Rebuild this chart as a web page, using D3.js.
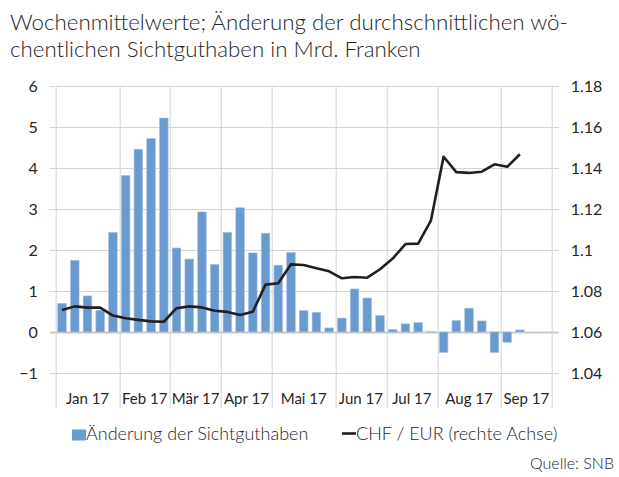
<!DOCTYPE html>
<html>
<head>
<meta charset="utf-8">
<script src="https://cdn.jsdelivr.net/npm/d3@7"></script>
<style>
  body { margin: 0; background: #fff; }
  svg text { font-family: Lato, "Open Sans", sans-serif; fill: #262626; }
</style>
</head>
<body>
<div class="chart"></div>
<script>
// data
let months = ["Jan 17", "Feb 17", "Mär 17", "Apr 17", "Mai 17", "Jun 17", "Jul 17", "Aug 17", "Sep 17"];
let weeksPerMonth = [5, 4, 4, 4, 5, 4, 4, 5, 4];

// weekly change of sight deposits (bn CHF), last two weeks not yet available
let change = [0.70, 1.75, 0.88, 0.53, 2.43,
              3.82, 4.46, 4.72, 5.22,
              2.05, 1.78, 2.93, 1.65,
              2.43, 3.03, 1.93, 2.41,
              1.63, 1.94, 0.52, 0.48, 0.10,
              0.34, 1.05, 0.83, 0.40,
              0.06, 0.20, 0.23, 0.01,
              -0.50, 0.28, 0.58, 0.27, -0.50,
              -0.25, 0.05, null, null];

// CHF per EUR, weekly mean (right axis)
let chfEur = [1.0707, 1.0725, 1.0719, 1.0719, 1.0680,
              1.0667, 1.0659, 1.0652, 1.0650,
              1.0716, 1.0725, 1.0720, 1.0704,
              1.0698, 1.0683, 1.0699, 1.0831,
              1.0838, 1.0930, 1.0927, 1.0911, 1.0896,
              1.0862, 1.0868, 1.0865, 1.0906,
              1.0958, 1.1029, 1.1031, 1.1143,
              1.1455, 1.1380, 1.1376, 1.1382, 1.1418,
              1.1406, 1.1467, null, null];

let leftTicks = [-1, 0, 1, 2, 3, 4, 5, 6];
let rightTicks = [1.04, 1.06, 1.08, 1.10, 1.12, 1.14, 1.16, 1.18];
let rightTickLabels = ["1.04", "1.06", "1.08", "1.1", "1.12", "1.14", "1.16", "1.18"];

let subtitle = ["Wochenmittelwerte; Änderung der durchschnittlichen wö-",
                "chentlichen Sichtguthaben in Mrd. Franken"];

let chart = {};

chart.width = 619;
chart.height = 477;
chart.margin = { top: 86, right: 67.3, bottom: 104, left: 55.7 };
chart.plotW = chart.width - chart.margin.left - chart.margin.right;
chart.plotH = chart.height - chart.margin.top - chart.margin.bottom;

let weeks = d3.range(change.length);

chart.x = d3.scaleBand()
    .domain(weeks)
    .range([0, chart.plotW])
    .paddingInner(0.32)
    .paddingOuter(0.16);

chart.y = d3.scaleLinear().domain([-1, 6]).range([chart.plotH, 0]);
chart.y2 = d3.scaleLinear().domain([1.04, 1.18]).range([chart.plotH, 0]);

chart.svg = d3.select(".chart").append("svg")
    .attr("width", chart.width)
    .attr("height", chart.height);

// subtitle
chart.svg.append("g").selectAll("text")
    .data(subtitle)
    .join("text")
    .attr("x", 10)
    .attr("y", (d, i) => 29.5 + i * 27)
    .style("font-size", "22.3px")
    .style("font-weight", 300)
    .text(d => d);

chart.plot = chart.svg.append("g")
    .attr("transform", `translate(${chart.margin.left},${chart.margin.top})`);

let gridColor = "#d4d4d4";

// horizontal gridlines with outward ticks on both sides
chart.plot.append("g").selectAll("line")
    .data(leftTicks)
    .join("line")
    .attr("x1", -6)
    .attr("x2", chart.plotW + 7)
    .attr("y1", d => Math.round(chart.y(d)) + 0.5)
    .attr("y2", d => Math.round(chart.y(d)) + 0.5)
    .attr("stroke", d => d === 0 ? "#c8c8c8" : gridColor)
    .attr("stroke-width", d => d === 0 ? 2 : 1);

// month boundaries (vertical gridlines running through the label row)
let step = chart.plotW / weeks.length;
let bounds = [0];
weeksPerMonth.forEach((n, i) => bounds.push(bounds[i] + n));

chart.plot.append("g").selectAll("line")
    .data(bounds)
    .join("line")
    .attr("x1", d => Math.round(d * step) + 0.5)
    .attr("x2", d => Math.round(d * step) + 0.5)
    .attr("y1", 0)
    .attr("y2", chart.plotH + 35)
    .attr("stroke", gridColor)
    .attr("stroke-width", 1);

// month labels
chart.plot.append("g").selectAll("text")
    .data(months)
    .join("text")
    .attr("x", (d, i) => (bounds[i] + bounds[i + 1]) / 2 * step)
    .attr("y", chart.plotH + 31)
    .attr("text-anchor", "middle")
    .style("font-size", "15px")
    .text(d => d);

// left axis labels
chart.leftAxis = chart.plot.append("g")
    .call(d3.axisLeft(chart.y).tickValues(leftTicks).tickSize(0).tickPadding(18)
        .tickFormat(d3.format("d")));
chart.leftAxis.select(".domain").remove();
chart.leftAxis.selectAll("text").style("font-size", "16px").attr("fill", "#262626");

// right axis labels
chart.rightAxis = chart.plot.append("g")
    .attr("transform", `translate(${chart.plotW},0)`)
    .call(d3.axisRight(chart.y2).tickValues(rightTicks).tickSize(0).tickPadding(19)
        .tickFormat((d, i) => rightTickLabels[i]));
chart.rightAxis.select(".domain").remove();
chart.rightAxis.selectAll("text").style("font-size", "16px").attr("fill", "#262626");

// bars
chart.plot.append("g").selectAll("rect")
    .data(weeks.filter(i => change[i] !== null))
    .join("rect")
    .attr("x", i => chart.x(i))
    .attr("width", chart.x.bandwidth())
    .attr("y", i => chart.y(Math.max(0, change[i])))
    .attr("height", i => Math.abs(chart.y(change[i]) - chart.y(0)))
    .attr("fill", "#6a9bd0")
    .attr("stroke", "#a9c6e6")
    .attr("stroke-width", 0.6);

// CHF / EUR line
chart.line = d3.line()
    .defined(i => chfEur[i] !== null)
    .x(i => chart.x(i) + chart.x.bandwidth() / 2)
    .y(i => chart.y2(chfEur[i]));

chart.plot.append("path")
    .datum(weeks)
    .attr("d", chart.line)
    .attr("fill", "none")
    .attr("stroke", "#231f20")
    .attr("stroke-width", 2.6)
    .attr("stroke-linejoin", "round");

// legend
chart.legend = chart.svg.append("g");
chart.legend.append("rect")
    .attr("x", 72).attr("y", 429.5).attr("width", 14).attr("height", 11)
    .attr("fill", "#6a9bd0");
chart.legend.append("text")
    .attr("x", 86).attr("y", 440)
    .style("font-size", "18px")
    .style("font-weight", 300)
    .text("Änderung der Sichtguthaben");
chart.legend.append("line")
    .attr("x1", 342).attr("x2", 356).attr("y1", 433.5).attr("y2", 433.5)
    .attr("stroke", "#231f20").attr("stroke-width", 2.6);
chart.legend.append("text")
    .attr("x", 356).attr("y", 440)
    .style("font-size", "18px")
    .style("font-weight", 300)
    .text("CHF / EUR (rechte Achse)");

// source
chart.svg.append("text")
    .attr("x", 614).attr("y", 469)
    .attr("text-anchor", "end")
    .style("font-size", "16px")
    .style("font-weight", 300)
    .text("Quelle: SNB");
</script>
</body>
</html>
